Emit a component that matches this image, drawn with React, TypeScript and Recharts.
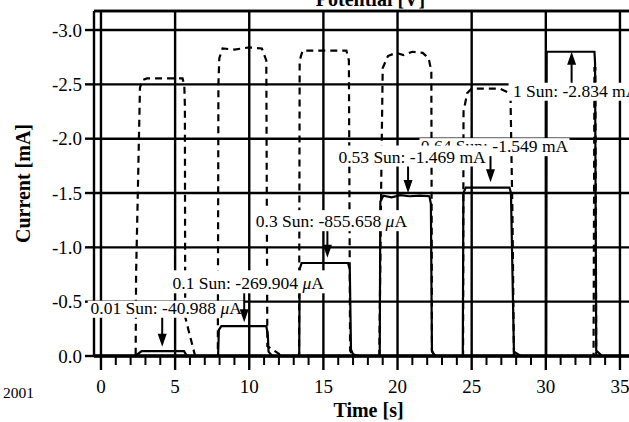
import { LineChart, Line, XAxis, YAxis, CartesianGrid, ReferenceDot } from 'recharts'

const SERIF = "'Liberation Serif', 'Times New Roman', serif"
const INK = '#000'

// current trace (solid), time in s, current in mA
const solidTime = [
  0, 2.3, 2.75, 5.6, 5.8,
  7.9, 7.95, 8.12, 11.15, 11.25, 11.3, 11.55,
  13.37, 13.4, 13.53, 16.66, 16.78, 16.86, 17.0, 17.4,
  18.8, 18.84, 19.04, 19.6, 20.2, 20.8, 21.5, 22.15, 22.25, 22.32, 22.55,
  24.4, 24.44, 24.6, 27.55, 27.65, 27.85, 28.3,
  30.03, 30.06, 33.28, 33.32, 33.4, 33.8, 35.6,
]
const solidCurrent = [
  0, 0, -0.045, -0.045, 0,
  0, -0.24, -0.275, -0.275, -0.2, -0.04, 0,
  0, -0.8, -0.856, -0.856, -0.8, -0.06, -0.015, 0,
  0, -1.42, -1.475, -1.46, -1.48, -1.47, -1.475, -1.47, -1.4, -0.04, 0,
  0, -1.5, -1.55, -1.55, -1.5, -0.04, 0,
  0, -2.8, -2.8, -2.7, -0.05, 0, 0,
]

// second trace (dashed)
const dashedTime = [
  0, 2.34, 2.37, 2.47, 2.63, 2.8, 3.1, 5.5, 5.62, 5.66, 5.68, 5.9, 6.35,
  7.88, 7.92, 7.98, 8.2, 9.0, 10.0, 10.85, 11.15, 11.22, 12.0, 12.1,
  13.36, 13.4, 13.6, 16.55, 16.72, 16.8, 17.0,
  18.77, 18.9, 19.0, 19.35, 19.9, 20.4, 21.0, 21.7, 22.1, 22.28, 22.32, 22.5,
  24.42, 24.45, 24.7, 25.0, 26.9, 27.4, 27.62, 27.75, 27.85,
  33.22, 33.28, 33.34, 33.4, 35.6,
]
const dashedCurrent = [
  0, 0, -0.77, -1.4, -2.47, -2.54, -2.555, -2.555, -2.49, -2.3, -0.36, -0.24, 0,
  0, -2.5, -2.74, -2.83, -2.82, -2.84, -2.83, -2.72, -0.09, -0.02, 0,
  0, -2.72, -2.81, -2.81, -2.72, -0.05, 0,
  0, -1.6, -2.65, -2.76, -2.79, -2.77, -2.8, -2.79, -2.74, -2.62, -0.05, 0,
  0, -2.25, -2.42, -2.46, -2.46, -2.43, -2.38, -1.3, 0,
  0, -2.65, -2.65, 0, 0,
]

const xTicks = [0, 5, 10, 15, 20, 25, 30, 35]
const minorTicks = Array.from({ length: 36 }, (_, i) => i)
const yTicks = [0, -0.5, -1.0, -1.5, -2.0, -2.5, -3.0]

// callouts: arrow tip (time, current) and text
const calloutText = ['0.01 Sun: -40.988 ', '0.1 Sun: -269.904 ', '0.3 Sun: -855.658 ', '0.64 Sun: -1.549 ', '0.53 Sun: -1.469 ', '1 Sun: -2.834 ']
const calloutUnit = ['μA', 'μA', 'μA', 'mA', 'mA', 'mA']
const calloutTime = [4.13, 9.66, 15.27, 26.27, 20.71, 31.74]
const calloutValue = [-0.085, -0.31, -0.905, -1.6, -1.5, -2.8]

// pixel layout of each box, relative to its arrow tip
const calloutLayout = [
  { baseDy: -33, top: -13, w: 157 },
  { baseDy: -33, top: -19, w: 156 },
  { baseDy: -30.5, top: -17, w: 155 },
  { baseDy: -30, top: -14, w: 150 },
  { baseDy: -30.5, top: -17, w: 150 },
  { baseDy: 45, top: -14, w: 134 },
]

const X_DOMAIN = [-0.47, 35.61]
const Y_DOMAIN = [-3.175, 0]

const solidData = solidTime.map((t, i) => ({ t, v: solidCurrent[i] }))
const dashedData = dashedTime.map((t, i) => ({ t, v: dashedCurrent[i] }))

// every second gets a short tick, every 5 s a long one with a number
function TimeTick({ x, y, payload }: any) {
  const major = xTicks.includes(payload.value)
  return (
    <g>
      <line x1={x} y1={y} x2={x} y2={y + (major ? 14 : 9)} stroke={INK} strokeWidth={major ? 2.4 : 2} />
      {major && (
        <text x={x} y={y + 37} textAnchor="middle" fontSize={19} fontFamily={SERIF} fill={INK}>
          {payload.value}
        </text>
      )}
    </g>
  )
}

function Callout({ cx, cy, i }: { cx: number; cy: number; i: number }) {
  const { baseDy, top, w } = calloutLayout[i]
  const up = baseDy > 0
  const tx = cx + 4
  const by = cy + baseDy
  const boxTop = by + top
  const boxBottom = by + 4
  const unit = calloutUnit[i]
  const shaftFrom = up ? boxTop : boxBottom
  const shaftTo = up ? cy + 12 : cy - 12
  const head = up
    ? `${cx - 4.5},${cy + 13} ${cx + 4.5},${cy + 13} ${cx},${cy}`
    : `${cx - 4.5},${cy - 13} ${cx + 4.5},${cy - 13} ${cx},${cy}`
  return (
    <g>
      <rect x={tx - w / 2} y={boxTop} width={w} height={boxBottom - boxTop} fill="#fff" />
      <text x={tx} y={by} textAnchor="middle" fontSize={17.5} fontFamily={SERIF} fill={INK}>
        {calloutText[i]}
        {unit.startsWith('μ') ? (
          <>
            <tspan fontStyle="italic">μ</tspan>
            {unit.slice(1)}
          </>
        ) : unit}
      </text>
      <line x1={cx} y1={shaftFrom} x2={cx} y2={shaftTo} stroke={INK} strokeWidth={2} />
      <polygon points={head} fill={INK} />
    </g>
  )
}

export default function App() {
  return (
    <div style={{ position: 'absolute', left: 0, top: 0, width: 629, height: 422, overflow: 'hidden', background: '#fff' }}>
      <LineChart width={629} height={422} margin={{ top: 0, right: 0, bottom: 0, left: 0 }}>
        {/* grid follows the 5 s ticks of the top axis */}
        <CartesianGrid xAxisId="top" verticalValues={xTicks} stroke={INK} strokeWidth={2.4} strokeOpacity={1} />
        <XAxis
          type="number"
          dataKey="t"
          domain={X_DOMAIN}
          allowDataOverflow
          ticks={minorTicks}
          interval={0}
          height={66}
          tickSize={0}
          tickMargin={0}
          tickLine={false}
          axisLine={{ stroke: INK, strokeWidth: 3.5 }}
          tick={(props: any) => <TimeTick {...props} />}
          label={{
            content: ({ viewBox }: any) => (
              <text x={viewBox.x + viewBox.width / 2 + 7} y={viewBox.y + 61} textAnchor="middle"
                fontSize={20} fontWeight="bold" fontFamily={SERIF} fill={INK}>
                Time [s]
              </text>
            ),
          }}
        />
        <XAxis
          xAxisId="top"
          orientation="top"
          type="number"
          dataKey="t"
          domain={X_DOMAIN}
          allowDataOverflow
          ticks={xTicks}
          interval={0}
          height={11}
          tick={{ fontSize: 0 }}
          tickFormatter={() => ''}
          tickLine={false}
          axisLine={{ stroke: INK, strokeWidth: 2.4 }}
          label={{
            content: ({ viewBox }: any) => (
              <text x={viewBox.x + viewBox.width / 2 + 9} y={viewBox.y + 6} textAnchor="middle"
                fontSize={20} fontWeight="bold" fontFamily={SERIF} fill={INK}>
                Potential [V]
              </text>
            ),
          }}
        />
        <YAxis
          type="number"
          domain={Y_DOMAIN}
          reversed
          allowDataOverflow
          ticks={yTicks}
          interval={0}
          width={94}
          tickSize={9}
          tickMargin={3}
          tickFormatter={(v: number) => v.toFixed(1)}
          axisLine={{ stroke: INK, strokeWidth: 2.4 }}
          tickLine={{ stroke: INK, strokeWidth: 2.4 }}
          tick={{ fill: INK, fontSize: 19, fontFamily: SERIF }}
          label={{
            content: ({ viewBox }: any) => {
              const x = viewBox.x + 30
              const y = viewBox.y + viewBox.height / 2
              return (
                <text x={x} y={y} transform={`rotate(-90, ${x}, ${y})`} textAnchor="middle"
                  fontSize={20} fontWeight="bold" fontFamily={SERIF} fill={INK}>
                  Current [mA]
                </text>
              )
            },
          }}
        />
        <Line data={dashedData} dataKey="v" type="linear" stroke={INK} strokeWidth={2.2}
          strokeDasharray="7 5" dot={false} isAnimationActive={false} />
        <Line data={solidData} dataKey="v" type="linear" stroke={INK} strokeWidth={2.2}
          dot={false} isAnimationActive={false} />
        {calloutText.map((_, i) => (
          <ReferenceDot
            key={i}
            x={calloutTime[i]}
            y={calloutValue[i]}
            zIndex={2500}
            shape={(p: any) => <Callout cx={p.cx} cy={p.cy} i={i} />}
          />
        ))}
        <text x={3} y={398} fontSize={15.5} fontFamily={SERIF} fill={INK}>2001</text>
      </LineChart>
    </div>
  )
}
